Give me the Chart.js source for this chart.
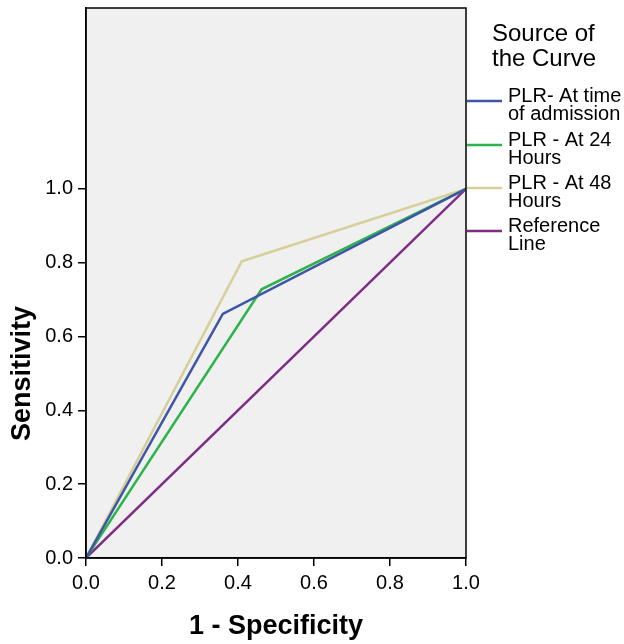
<!DOCTYPE html>
<html>
<head>
<meta charset="utf-8">
<script src="https://cdn.jsdelivr.net/npm/chart.js@4/dist/chart.umd.min.js"></script>
<style>
  html, body { margin: 0; padding: 0; background: #fff; }
  #wrap { width: 624px; height: 644px; }
</style>
</head>
<body>
<div id="wrap"><canvas id="myChart" width="624" height="644"></canvas></div>
<script>
// ROC curve data (1 - specificity vs sensitivity)
const seriesNames = ['PLR- At time of admission', 'PLR - At 24 Hours', 'PLR - At 48 Hours', 'Reference Line'];
const legendLines = [['PLR- At time', 'of admission'], ['PLR - At 24', 'Hours'], ['PLR - At 48', 'Hours'], ['Reference', 'Line']];
const admissionX = [0, 0.36, 1];
const admissionY = [0, 0.661, 1];
const h24X = [0, 0.462, 1];
const h24Y = [0, 0.728, 1];
const h48X = [0, 0.41, 1];
const h48Y = [0, 0.804, 1];
const refX = [0, 1];
const refY = [0, 1];
const tickValues = [0, 0.2, 0.4, 0.6, 0.8, 1.0];
const lineColors = ['#3d55a8', '#2eb34b', '#d6cf98', '#7d2b85'];

const toPoints = (xs, ys) => xs.map((x, i) => ({ x: x, y: ys[i] }));
const allX = [admissionX, h24X, h48X, refX];
const allY = [admissionY, h24Y, h48Y, refY];

const FONT = '"Liberation Sans", Arial, sans-serif';

// draws the grey plot background, frame, axis titles and the legend
const spssStyle = {
  id: 'spssStyle',
  beforeDraw(chart) {
    const { ctx, chartArea: a } = chart;
    ctx.save();
    ctx.fillStyle = '#f0f0f0';
    ctx.fillRect(a.left, a.top, a.right - a.left, a.bottom - a.top);
    ctx.restore();
  },
  afterDraw(chart) {
    const { ctx, chartArea: a, scales } = chart;
    ctx.save();
    ctx.strokeStyle = '#000';
    ctx.lineWidth = 1.5;
    ctx.strokeRect(a.left, a.top, a.right - a.left, a.bottom - a.top);

    // axis titles (centred on the 0-1 range)
    ctx.fillStyle = '#000';
    ctx.font = 'bold 27px ' + FONT;
    ctx.textAlign = 'center';
    ctx.textBaseline = 'middle';
    ctx.fillText('1 - Specificity', scales.x.getPixelForValue(0.5), 627);
    ctx.save();
    ctx.translate(23, scales.y.getPixelForValue(0.5));
    ctx.rotate(-Math.PI / 2);
    ctx.fillText('Sensitivity', 0, 0);
    ctx.restore();

    // legend
    ctx.textAlign = 'left';
    ctx.font = '24px ' + FONT;
    ctx.fillText('Source of', 492, 34);
    ctx.fillText('the Curve', 492, 59);
    ctx.font = '20px ' + FONT;
    const rows = [101, 145, 188, 231];
    legendLines.forEach((lines, i) => {
      ctx.strokeStyle = lineColors[i];
      ctx.lineWidth = 2.5;
      ctx.beginPath();
      ctx.moveTo(467, rows[i]);
      ctx.lineTo(502, rows[i]);
      ctx.stroke();
      ctx.fillText(lines[0], 508, rows[i] - 5);
      ctx.fillText(lines[1], 508, rows[i] + 13);
    });
    ctx.restore();
  }
};

const ctx = document.getElementById('myChart').getContext('2d');
const myChart = new Chart(ctx, {
  type: 'line',
  data: {
    datasets: seriesNames.map((name, i) => ({
      label: name,
      data: toPoints(allX[i], allY[i]),
      borderColor: lineColors[i],
      borderWidth: 2.5,
      pointRadius: 0,
      tension: 0,
      fill: false
    }))
  },
  options: {
    responsive: false,
    animation: false,
    layout: { padding: { top: 8, right: 158, left: 0, bottom: 0 } },
    scales: {
      x: {
        type: 'linear',
        min: 0,
        max: 1,
        afterBuildTicks: scale => { scale.ticks = tickValues.map(v => ({ value: v })); },
        afterFit: scale => { scale.height = 86; scale.paddingLeft = 0; scale.paddingRight = 0; },
        grid: { drawOnChartArea: false, drawTicks: true, tickLength: 8, color: '#000', lineWidth: 1.5 },
        border: { color: '#000', width: 1.5 },
        ticks: {
          color: '#000',
          font: { family: FONT, size: 20 },
          padding: 5,
          maxRotation: 0,
          callback: v => v.toFixed(1)
        }
      },
      y: {
        type: 'linear',
        min: 0,
        max: 1.49,
        afterBuildTicks: scale => { scale.ticks = tickValues.map(v => ({ value: v })); },
        afterFit: scale => { scale.width = 86; scale.paddingTop = 0; scale.paddingBottom = 0; },
        grid: { drawOnChartArea: false, drawTicks: true, tickLength: 8, color: '#000', lineWidth: 1.5 },
        border: { color: '#000', width: 1.5 },
        ticks: {
          color: '#000',
          font: { family: FONT, size: 20 },
          padding: 5,
          callback: v => v.toFixed(1)
        }
      }
    },
    plugins: {
      legend: { display: false },
      tooltip: { enabled: false }
    }
  },
  plugins: [spssStyle]
});
</script>
</body>
</html>
